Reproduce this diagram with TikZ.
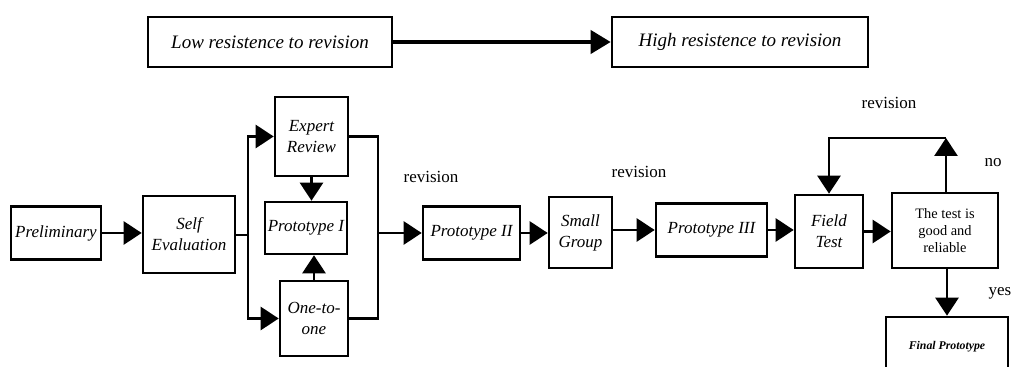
\documentclass[tikz,border=0pt]{standalone}
\usepackage{fontspec}
\setmainfont{Liberation Serif}
\usetikzlibrary{arrows.meta}

\begin{document}
\begin{tikzpicture}[x=0.5pt,y=-0.5pt,line width=1.3pt,
  box/.style={draw,inner sep=1pt,align=center,font=\fontsize{8.5}{10.5}\selectfont\itshape},
  arr/.style={-{Triangle[length=9pt,width=11.5pt]}},
  lbl/.style={font=\fontsize{8.5}{10}\selectfont}]
\useasboundingbox (0,0) rectangle (1014,367);
\node [box,minimum width=122pt,minimum height=25pt,font=\fontsize{9.5}{11}\selectfont\itshape] (low) at (270,42) {Low resistence to revision};
\node [box,minimum width=128pt,minimum height=25pt,font=\fontsize{9.5}{11}\selectfont\itshape] (high) at (740,42) {High resistence to revision};
\draw [line width=2pt,-{Triangle[length=10pt,width=11.5pt]}] (low) -- (high);
\node [box,minimum width=45pt,minimum height=26.5pt] (prelim) at (56,233) {Preliminary};
\node [box,minimum width=46pt,minimum height=38.5pt] (self) at (189,234.5) {Self\\Evaluation};
\node [box,minimum width=36.5pt,minimum height=39.5pt] (expert) at (311.5,136.5) {Expert\\Review};
\node [box,minimum width=41pt,minimum height=26pt] (protoa) at (306,228) {Prototype I};
\node [box,minimum width=34pt,minimum height=37.5pt] (one) at (314,318.5) {One-to-\\one};
\node [box,minimum width=48.5pt,minimum height=26.5pt] (protob) at (471.5,233) {Prototype II};
\node [box,minimum width=31.5pt,minimum height=35.5pt] (small) at (580.5,232.5) {Small\\Group};
\node [box,minimum width=55.5pt,minimum height=26.5pt] (protoc) at (711.5,230) {Prototype III};
\node [box,minimum width=34pt,minimum height=36.5pt] (field) at (829,231.5) {Field\\Test};
\node [box,minimum width=53pt,minimum height=37.5pt,font=\fontsize{7.2}{8.6}\selectfont] (test) at (945,230.5) {The test is\\good and\\reliable};
\node [box,minimum width=61pt,minimum height=30pt,font=\fontsize{5.9}{7}\selectfont\bfseries\itshape] (final) at (947,347) {Final Prototype};
\coordinate (split) at (248,235);
\coordinate (merge) at (378,233);
\coordinate (back) at (946,138);
\draw [arr] (prelim.east) -- (prelim.east -| self.west);
\draw (self.east |- split) -- (split);
\draw [arr] (split) |- (expert.west);
\draw [arr] (split) |- (one.west);
\draw [arr] (expert.south) -- (expert.south |- protoa.north);
\draw [arr] (one.north) -- (one.north |- protoa.south);
\draw (expert.east) -| (merge);
\draw (one.east) -| (merge);
\draw [arr] (merge) -- (merge -| protob.west);
\draw [arr] (protob.east) -- (protob.east -| small.west);
\draw [arr] (small.east |- protoc) -- (protoc.west);
\draw [arr] (protoc.east) -- (protoc.east -| field.west);
\draw [arr] (field.east) -- (field.east -| test.west);
\draw [arr] (test.north -| back) -- (back);
\draw [arr] (back) -| (field.north);
\draw [arr] (test.south -| final) -- (final.north);
\node [lbl] (reva) at (431,177) {revision};
\node [lbl] (revb) at (639,172) {revision};
\node [lbl] (revc) at (889,103) {revision};
\node [lbl] (no) at (993,163) {no};
\node [lbl] (yes) at (1000,293) {yes};
\end{tikzpicture}
\end{document}
